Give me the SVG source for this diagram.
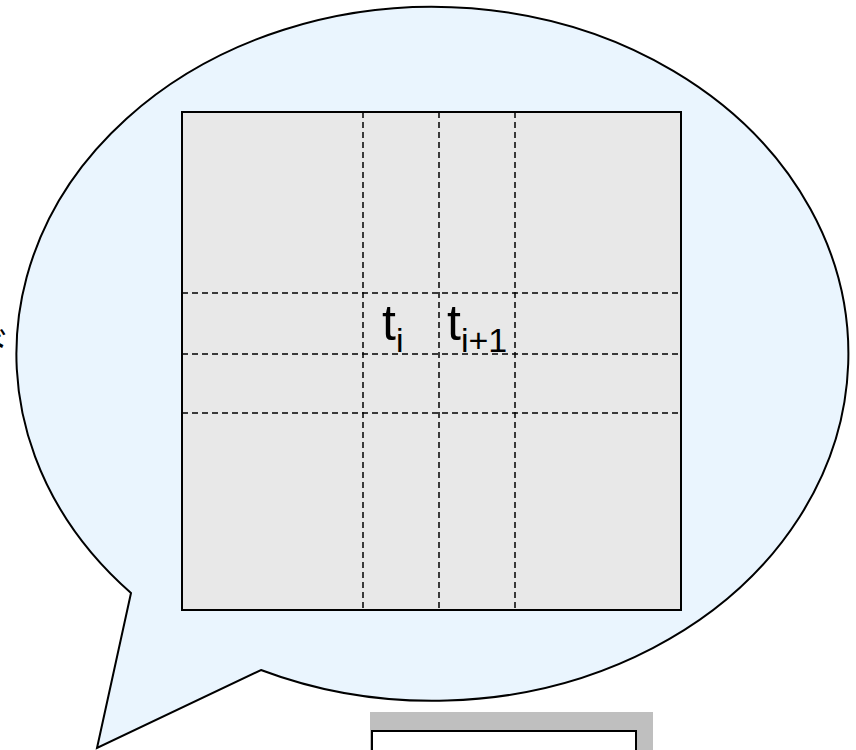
<svg xmlns="http://www.w3.org/2000/svg" width="856" height="750" viewBox="0 0 856 750">
<style>
.bubble{fill:#eaf5fe;stroke:#000;stroke-width:2}
.grid{fill:#e8e8e8;stroke:#000;stroke-width:2}
.dash{stroke:#000;stroke-width:1.5;stroke-dasharray:6 4;fill:none}
.lbl{font-family:"Liberation Sans",Arial,sans-serif;font-size:50px;fill:#000}
.sub{font-size:34px}
.shadow{fill:#bfbfbf}
.box{fill:#fff;stroke:#000;stroke-width:2}
.frag{font-family:"Noto Sans CJK JP","Noto Sans",sans-serif;font-size:36px;fill:#000}
</style>
<g id="fragment">
<text class="frag" x="-26" y="357">ド</text>
</g>
<g id="bubble">
<path class="bubble" d="M131 593 L97 748 L261 670 A416 347 0 1 0 131 593 Z"/>
</g>
<g id="matrix">
<rect class="grid" x="182" y="112" width="499" height="498"/>
</g>
<g id="connectors">
<line class="dash" x1="363" y1="112" x2="363" y2="610"/>
<line class="dash" x1="439" y1="112" x2="439" y2="610"/>
<line class="dash" x1="515" y1="112" x2="515" y2="610"/>
<line class="dash" x1="182" y1="293" x2="681" y2="293"/>
<line class="dash" x1="182" y1="354" x2="681" y2="354"/>
<line class="dash" x1="182" y1="413" x2="681" y2="413"/>
</g>
<g id="label-ti">
<text class="lbl" x="382" y="340" font-family="Liberation Sans, Arial, sans-serif">t<tspan class="sub" dy="12">i</tspan></text>
</g>
<g id="label-ti1">
<text class="lbl" x="447" y="340" font-family="Liberation Sans, Arial, sans-serif">t<tspan class="sub" dy="12">i+1</tspan></text>
</g>
<g id="box">
<rect class="shadow" x="370" y="712" width="283" height="60"/>
<rect class="box" x="372" y="731" width="264" height="40"/>
</g>
</svg>
